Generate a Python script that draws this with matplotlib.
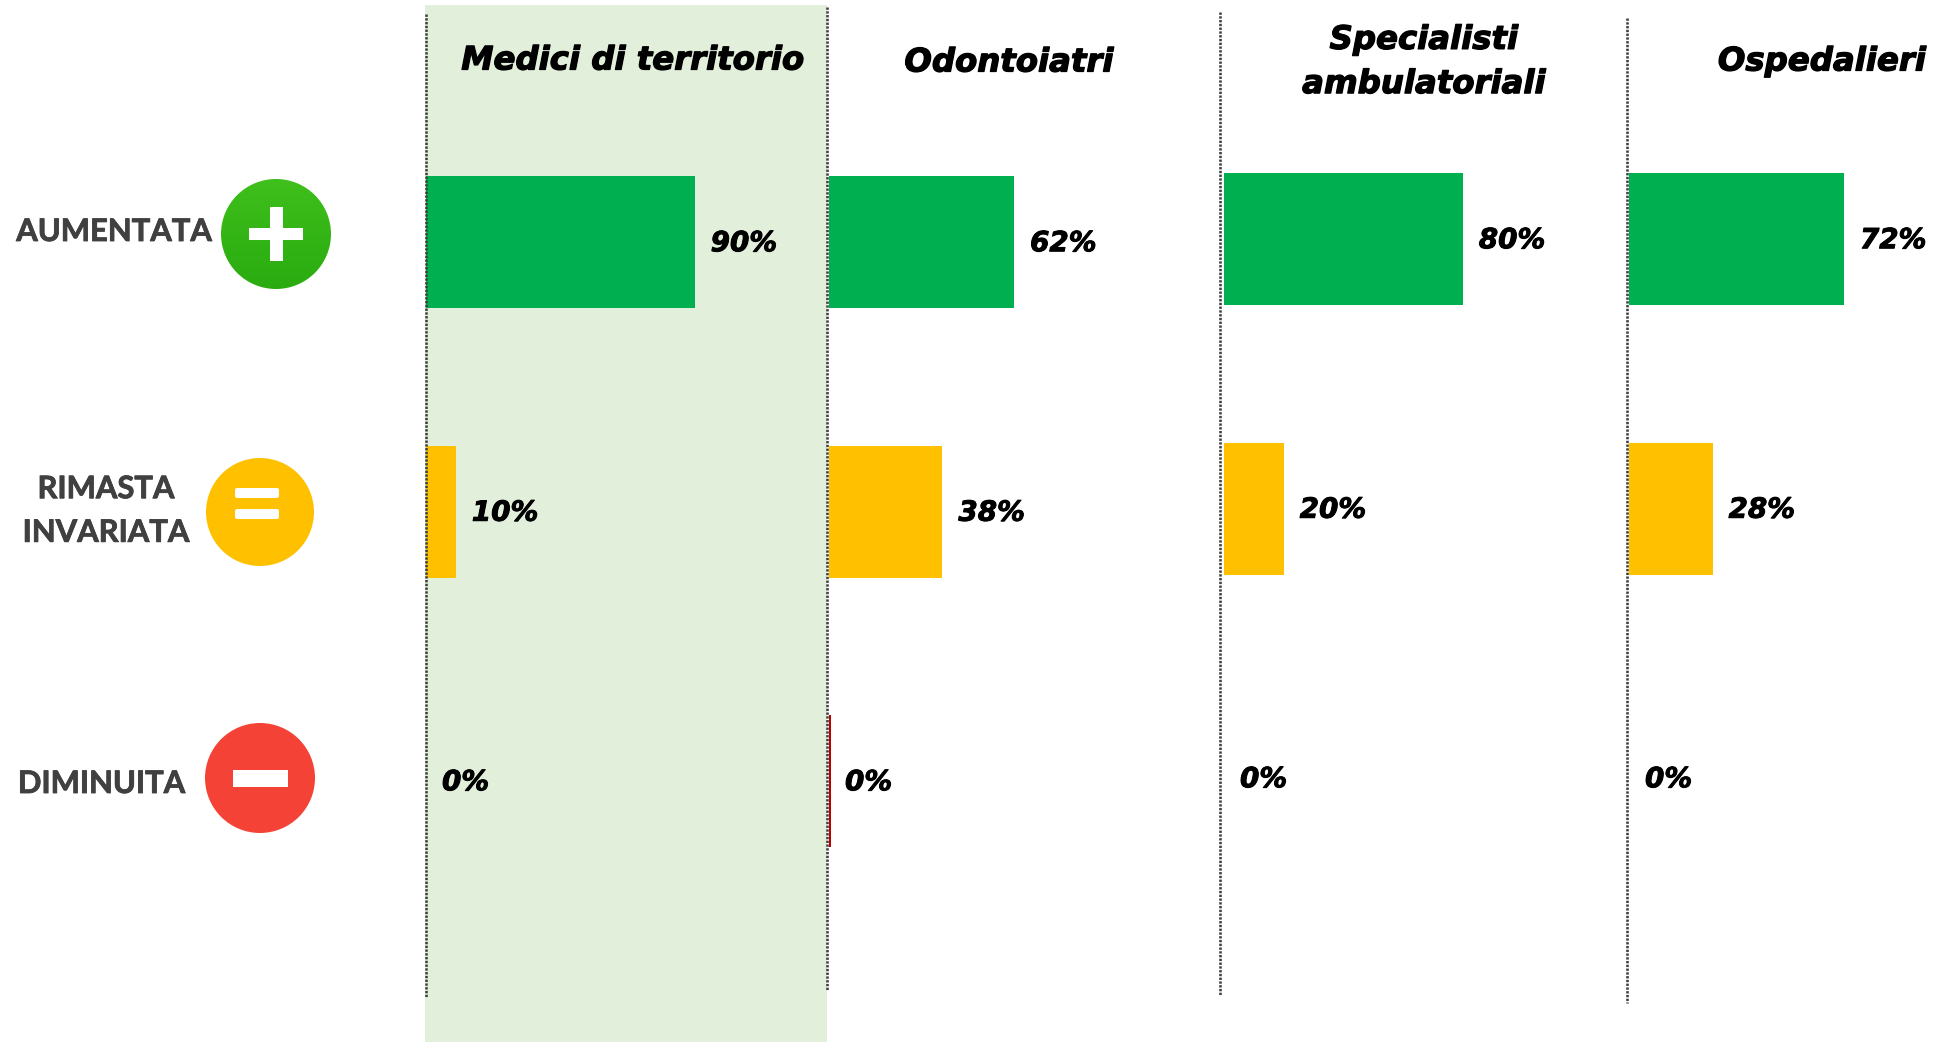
import numpy as np
import matplotlib
matplotlib.use("Agg")
import matplotlib.pyplot as plt
import matplotlib.patheffects as pe
from matplotlib.patches import Circle, Rectangle, FancyBboxPatch

# ---------- data ----------
groups = ["Medici di territorio", "Odontoiatri", "Specialisti\nambulatoriali", "Ospedalieri"]
rows = ["AUMENTATA", "RIMASTA\nINVARIATA", "DIMINUITA"]
aumentata = [90, 62, 80, 72]
invariata = [10, 38, 20, 28]
diminuita = [0, 0, 0, 0]

# ---------- style / layout ----------
W, H = 1934, 1042
DPI = 100
C_BARS = ["#00B050", "#FFC000", "#C00000"]
C_PANEL = "#E2EFDA"
C_LINE = "#404040"
C_LABEL = "#404040"
PX = 72 / DPI
panel_left = [426, 829, 1224, 1629]
panel_rowtop = [107.5, 107.5, 104.5, 104.5]
PX_PER_PCT = 2.985
ROW_PX = 269.5
BAR_PX = 132
sep_lines = [(426, 14, 997), (827, 7, 990), (1219.5, 12, 995), (1627, 18, 1003)]
title_pos = [(633, 61), (1009, 63), (1424, 62.5), (1822, 62)]
row_pos = [(212, 232, "right"), (106, 511, "center"), (185, 784, "right")]

fig = plt.figure(figsize=(W / DPI, H / DPI), dpi=DPI, facecolor="white")


def pixel_axes(zorder):
    ax = fig.add_axes([0, 0, 1, 1], zorder=zorder)
    ax.set_xlim(0, W)
    ax.set_ylim(H, 0)
    ax.axis("off")
    ax.patch.set_alpha(0)
    return ax


back = pixel_axes(0)
back.add_patch(Rectangle((425, 5), 402, 1037, fc=C_PANEL, ec="none"))

# bars
series = [aumentata, invariata, diminuita]
for p, left in enumerate(panel_left):
    top = panel_rowtop[p]
    ax = fig.add_axes([left / W, 1 - (top + 3 * ROW_PX) / H,
                       100 * PX_PER_PCT / W, 3 * ROW_PX / H], zorder=1)
    ax.set_xlim(0, 100)
    ax.set_ylim(2.5, -0.5)
    ax.axis("off")
    ax.patch.set_alpha(0)
    for r, vals in enumerate(series):
        v = vals[p]
        ax.barh(r, v, height=BAR_PX / ROW_PX, color=C_BARS[r], linewidth=0)
        ax.annotate(f"{v}%", (v, r), xytext=(16 * PX, -1 * PX),
                    textcoords="offset points", ha="left", va="center",
                    fontfamily="DejaVu Sans", fontweight="bold", fontstyle="oblique",
                    fontsize=20, color="black", annotation_clip=False,
                    path_effects=[pe.withStroke(linewidth=0.7, foreground="black")])
    # the zero bar of Odontoiatri shows as a thin red sliver
    if p == 1:
        ax.barh(2, diminuita[p], left=0.33, height=BAR_PX / ROW_PX,
                edgecolor=C_BARS[2], linewidth=2 * PX, clip_on=False)

top = pixel_axes(2)
for x, y0, y1 in sep_lines:
    top.plot([x, x], [y0, y1], color=C_LINE, lw=2.6 * PX,
             linestyle=(0, (0.9, 0.55)), solid_capstyle="butt")

for g, (x, y) in zip(groups, title_pos):
    top.text(x, y, g, ha="center", va="center", fontfamily="DejaVu Sans",
             fontweight="bold", fontstyle="oblique", fontsize=23.3,
             color="black", linespacing=1.55,
             path_effects=[pe.withStroke(linewidth=0.9, foreground="black")])

for lab, (x, y, ha) in zip(rows, row_pos):
    top.text(x, y, lab, ha=ha, va="center", fontfamily="Lato", fontweight="bold",
             fontsize=22.3, color=C_LABEL, linespacing=1.68, multialignment="center",
             path_effects=[pe.withStroke(linewidth=0.6, foreground=C_LABEL)])

# icons: green disc with vertical gradient
grad = np.linspace(0, 1, 256)[:, None]
cols = np.array([0x3F, 0xC0, 0x1C])[None, None, :] * (1 - grad[..., None]) + \
       np.array([0x2A, 0xAB, 0x10])[None, None, :] * grad[..., None]
img = top.imshow(cols.astype(np.uint8), extent=(221, 331, 289, 179), aspect="auto", zorder=2)
img.set_clip_path(Circle((276, 234), 55, transform=top.transData))
top.set_xlim(0, W)
top.set_ylim(H, 0)
top.add_patch(Rectangle((249, 228), 54, 12, fc="white", ec="none", zorder=3))
top.add_patch(Rectangle((269.5, 207), 13, 54, fc="white", ec="none", zorder=3))

top.add_patch(Circle((260, 512), 54, fc="#FFC000", ec="none", zorder=2))
for y in (488, 509):
    top.add_patch(FancyBboxPatch((237, y + 2), 40, 6, boxstyle="round,pad=0,rounding_size=0",
                                 fc="white", ec="white", lw=4 * PX, joinstyle="round", zorder=3))

top.add_patch(Circle((260, 778), 55, fc="#F44336", ec="none", zorder=2))
top.add_patch(Rectangle((233, 770), 55, 17, fc="white", ec="none", zorder=3))

fig.savefig("out.png", dpi=DPI, facecolor="white")
